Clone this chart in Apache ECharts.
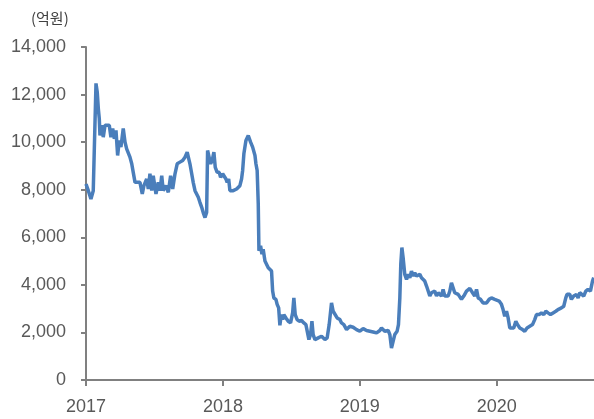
<!DOCTYPE html>
<html>
<head>
<meta charset="utf-8">
<script src="https://cdn.jsdelivr.net/npm/echarts@6/dist/echarts.min.js"></script>
<style>
html,body{margin:0;padding:0;background:#fff;}
#chart{width:594px;height:419px;}
</style>
</head>
<body>
<div id="chart"></div>
<script>
// fractional year positions of the observations
var years = [
2017.000,2017.017,2017.036,2017.053,2017.066,2017.073,2017.082,2017.090,2017.097,2017.102,
2017.115,2017.126,2017.139,2017.151,2017.170,2017.182,2017.195,2017.207,2017.219,2017.231,
2017.243,2017.255,2017.272,2017.285,2017.297,2017.309,2017.321,2017.334,2017.345,2017.358,
2017.374,2017.394,2017.411,2017.423,2017.443,2017.455,2017.467,2017.480,2017.491,2017.511,
2017.528,2017.540,2017.553,2017.564,2017.584,2017.601,2017.618,2017.633,2017.650,2017.666,
2017.686,2017.706,2017.723,2017.739,2017.750,2017.759,2017.772,2017.783,2017.796,2017.808,
2017.820,2017.832,2017.845,2017.856,2017.869,2017.881,2017.888,2017.900,2017.910,2017.922,
2017.934,2017.944,2017.958,2017.973,2017.983,2017.998,2018.009,2018.022,2018.031,2018.042,
2018.051,2018.075,2018.100,2018.124,2018.136,2018.144,2018.153,2018.168,2018.185,2018.202,
2018.217,2018.234,2018.241,2018.250,2018.258,2018.263,2018.275,2018.285,2018.294,2018.307,
2018.319,2018.331,2018.343,2018.355,2018.363,2018.372,2018.387,2018.396,2018.407,2018.416,
2018.426,2018.436,2018.445,2018.460,2018.477,2018.494,2018.509,2018.518,2018.528,2018.542,
2018.557,2018.574,2018.591,2018.606,2018.615,2018.628,2018.640,2018.650,2018.659,2018.672,
2018.696,2018.720,2018.745,2018.761,2018.776,2018.793,2018.805,2018.818,2018.834,2018.854,
2018.866,2018.883,2018.903,2018.927,2018.951,2018.976,2019.000,2019.024,2019.049,2019.073,
2019.097,2019.122,2019.146,2019.158,2019.182,2019.207,2019.219,2019.231,2019.243,2019.255,
2019.272,2019.282,2019.292,2019.299,2019.307,2019.316,2019.328,2019.341,2019.353,2019.365,
2019.377,2019.389,2019.401,2019.414,2019.438,2019.450,2019.462,2019.474,2019.487,2019.499,
2019.511,2019.523,2019.535,2019.547,2019.560,2019.572,2019.584,2019.596,2019.608,2019.620,
2019.633,2019.645,2019.657,2019.669,2019.681,2019.693,2019.706,2019.718,2019.742,2019.759,
2019.779,2019.791,2019.803,2019.823,2019.839,2019.852,2019.864,2019.881,2019.900,2019.925,
2019.944,2019.961,2019.973,2019.985,2019.998,2020.017,2020.034,2020.046,2020.058,2020.071,
2020.083,2020.095,2020.107,2020.124,2020.139,2020.151,2020.168,2020.188,2020.204,2020.221,
2020.241,2020.261,2020.277,2020.290,2020.309,2020.326,2020.343,2020.358,2020.374,2020.392,
2020.411,2020.431,2020.447,2020.472,2020.489,2020.504,2020.513,2020.533,2020.545,2020.562,
2020.582,2020.594,2020.606,2020.618,2020.635,2020.650,2020.666,2020.684,2020.699,2020.708
];
// values in 억원
var values = [
8240,7960,7610,7960,8030,12470,12110,11410,10990,10280,
10710,10210,10710,10630,10710,10210,10570,10140,10490,9440,
10070,9790,10570,10000,9720,9790,9370,9090,8730,8310,
8310,8310,7820,8170,8450,8030,8670,7960,8590,7820,
8310,7960,8590,7960,8170,7890,8590,8030,8670,9090,
9160,9230,9370,9580,9510,9090,8670,8310,7960,7820,
7680,7470,7260,7040,6830,7040,9650,9580,9090,9230,
9580,8940,8730,8730,8520,8670,8590,8450,8310,8450,
7960,7960,8030,8170,8450,8810,9510,10070,10280,10000,
9790,9440,9090,8810,7400,5430,5640,5290,5500,5000,
4930,4720,4790,4580,3740,3450,3390,3180,3030,2300,
2750,2540,2750,2610,2470,2400,2820,3450,2750,2540,
2470,2500,2400,2330,2400,1700,1910,2470,1910,1700,
1770,1840,1700,1770,2330,3240,2890,2820,2610,2540,
2400,2330,2120,2260,2220,2120,2050,2160,2080,2050,
2020,1980,2080,2190,2050,2080,1910,1340,1630,1910,
2050,2330,3450,4870,5570,5140,4440,4230,4440,4300,
4580,4370,4510,4370,4440,4300,4370,4160,3950,3740,
3530,3670,3600,3740,3530,3670,3600,3530,3810,3530,
3450,3530,3740,4090,3880,3670,3670,3600,3390,3530,
3740,3770,3850,3670,3530,3810,3450,3390,3240,3240,
3390,3450,3530,3390,3320,3320,3180,2960,2680,2890,
2610,2190,2120,2190,2470,2330,2190,2120,2050,2190,
2260,2330,2540,2750,2750,2820,2750,2890,2820,2750,
2820,2890,2960,3030,3100,3450,3600,3600,3390,3530,
3600,3450,3670,3740,3530,3740,3810,3740,4160,4300
];
var yTicks = [0, 2000, 4000, 6000, 8000, 10000, 12000, 14000];
var xTickYears = [2017, 2018, 2019, 2020];
var unitLabel = '(억원)';

var data = years.map(function (t, i) { return [t, values[i]]; });

var chart = echarts.init(document.getElementById('chart'), null, {renderer: 'canvas'});
var labelFont = 'Liberation Sans, Arial, sans-serif';
chart.setOption({
  animation: false,
  backgroundColor: '#ffffff',
  title: {
    text: unitLabel,
    left: 26,
    top: 6,
    textStyle: {fontFamily: 'Noto Sans CJK KR', fontSize: 15, fontWeight: 'normal', color: '#404040'}
  },
  grid: {left: 86, right: 0, top: 47, bottom: 39, containLabel: false},
  xAxis: {
    type: 'value',
    min: xTickYears[0],
    max: 2020.71,
    interval: 1,
    axisLine: {show: true, lineStyle: {color: '#808080', width: 2}},
    axisTick: {show: true, length: 6, lineStyle: {color: '#808080', width: 2},
      customValues: xTickYears},
    axisLabel: {
      margin: 18,
      color: '#595959',
      fontSize: 18,
      fontFamily: labelFont,
      customValues: xTickYears,
      formatter: function (v) { return Number.isInteger(v) ? String(v) : ''; }
    },
    splitLine: {show: false}
  },
  yAxis: {
    type: 'value',
    min: yTicks[0],
    max: yTicks[yTicks.length - 1],
    interval: 2000,
    axisLine: {show: true, lineStyle: {color: '#808080', width: 2}},
    axisTick: {show: true, length: 5, lineStyle: {color: '#808080', width: 2}},
    axisLabel: {
      margin: 20,
      color: '#595959',
      fontSize: 18,
      fontFamily: labelFont,
      formatter: function (v) { return v.toLocaleString('en-US'); }
    },
    splitLine: {show: false}
  },
  series: [{
    type: 'line',
    data: data,
    showSymbol: false,
    lineStyle: {color: '#4A7EBB', width: 3.5},
    itemStyle: {color: '#4A7EBB'}
  }]
});
</script>
</body>
</html>
